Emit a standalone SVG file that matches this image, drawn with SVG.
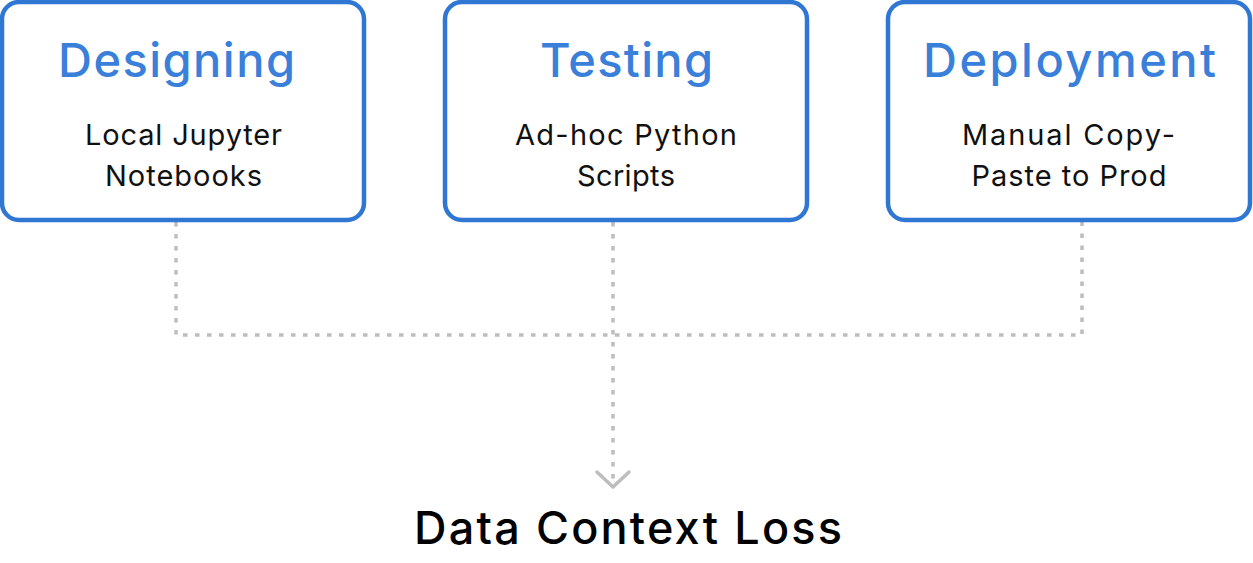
<svg xmlns="http://www.w3.org/2000/svg" width="1253" height="563" viewBox="0 0 1253 563">
<style>
.box{fill:#ffffff;stroke:#3077D4;stroke-width:4.5}
.title{font-family:Inter,"Noto Sans",sans-serif;font-weight:500;font-size:47px;fill:#3A7FD9;text-anchor:middle}
.sub{font-family:Inter,"Noto Sans",sans-serif;font-weight:400;font-size:29px;fill:#111111;text-anchor:middle}
.bottom{font-family:Inter,"Noto Sans",sans-serif;font-weight:500;font-size:45px;fill:#000000;text-anchor:middle}
.conn{fill:none;stroke:#BDBDBD;stroke-width:3.5;stroke-dasharray:4.5 7.5}
.head{fill:none;stroke:#BDBDBD;stroke-width:3.5;stroke-linecap:round;stroke-linejoin:round}
</style>
<rect width="1253" height="563" fill="#ffffff"/>
<g id="connectors">
<path class="conn" d="M176 222 V335 H1082 V222"/>
<path class="conn" d="M613 222 V484"/>
<path class="head" d="M597 472 L613 487 L629 472"/>
</g>
<g id="node-designing">
<rect class="box" x="2" y="2" width="362" height="218" rx="17"/>
<text class="title" x="176.5" y="77" textLength="237">Designing</text>
<text class="sub" x="183.5" y="145" textLength="197">Local Jupyter</text>
<text class="sub" x="183.5" y="186" textLength="157">Notebooks</text>
</g>
<g id="node-testing">
<rect class="box" x="445" y="2" width="362" height="218" rx="17"/>
<text class="title" x="626.5" y="77" textLength="173">Testing</text>
<text class="sub" x="626" y="145" textLength="222">Ad-hoc Python</text>
<text class="sub" x="626" y="186" textLength="98">Scripts</text>
</g>
<g id="node-deployment">
<rect class="box" x="888" y="2" width="362" height="218" rx="17"/>
<text class="title" x="1069.5" y="77" textLength="293">Deployment</text>
<text class="sub" x="1068.5" y="145" textLength="213">Manual Copy-</text>
<text class="sub" x="1069" y="186" textLength="195">Paste to Prod</text>
</g>
<g id="node-loss">
<text class="bottom" x="628" y="544" textLength="428">Data Context Loss</text>
</g>
</svg>
